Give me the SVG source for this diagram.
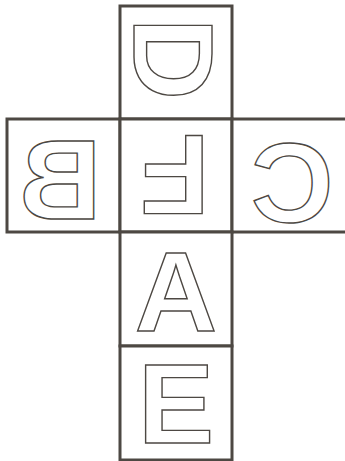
<svg xmlns="http://www.w3.org/2000/svg" width="345" height="461" viewBox="0 0 345 461">
<style>
.face{fill:#ffffff;stroke:#4d4843;stroke-width:3}
.let{font-family:"Liberation Sans",Arial,sans-serif;font-weight:bold;font-size:114px;fill:#ffffff;stroke:#4d4843;stroke-width:1.4;text-anchor:middle}
</style>
<rect width="345" height="461" fill="#ffffff"/>
<g id="face-D">
<rect class="face" x="120" y="6" width="112" height="113"/>
<g transform="translate(175,59) rotate(90)"><text class="let" x="0" y="41">D</text></g>
</g>
<g id="face-B">
<rect class="face" x="7" y="119" width="113" height="113"/>
<g transform="translate(60,178) scale(-1,1)"><text class="let" x="0" y="41">B</text></g>
</g>
<g id="face-F">
<rect class="face" x="120" y="119" width="112" height="113"/>
<g transform="translate(175,176) rotate(180)"><text class="let" x="0" y="41">F</text></g>
</g>
<g id="face-C">
<rect class="face" x="232" y="119" width="120" height="113"/>
<g transform="translate(292,181) scale(-1,1)"><text class="let" x="0" y="41">C</text></g>
</g>
<g id="face-A">
<rect class="face" x="120" y="232" width="112" height="114"/>
<text class="let" x="176" y="331">A</text>
</g>
<g id="face-E">
<rect class="face" x="120" y="346" width="112" height="114"/>
<text class="let" x="176" y="443">E</text>
</g>
<g id="connectors"></g>
</svg>
